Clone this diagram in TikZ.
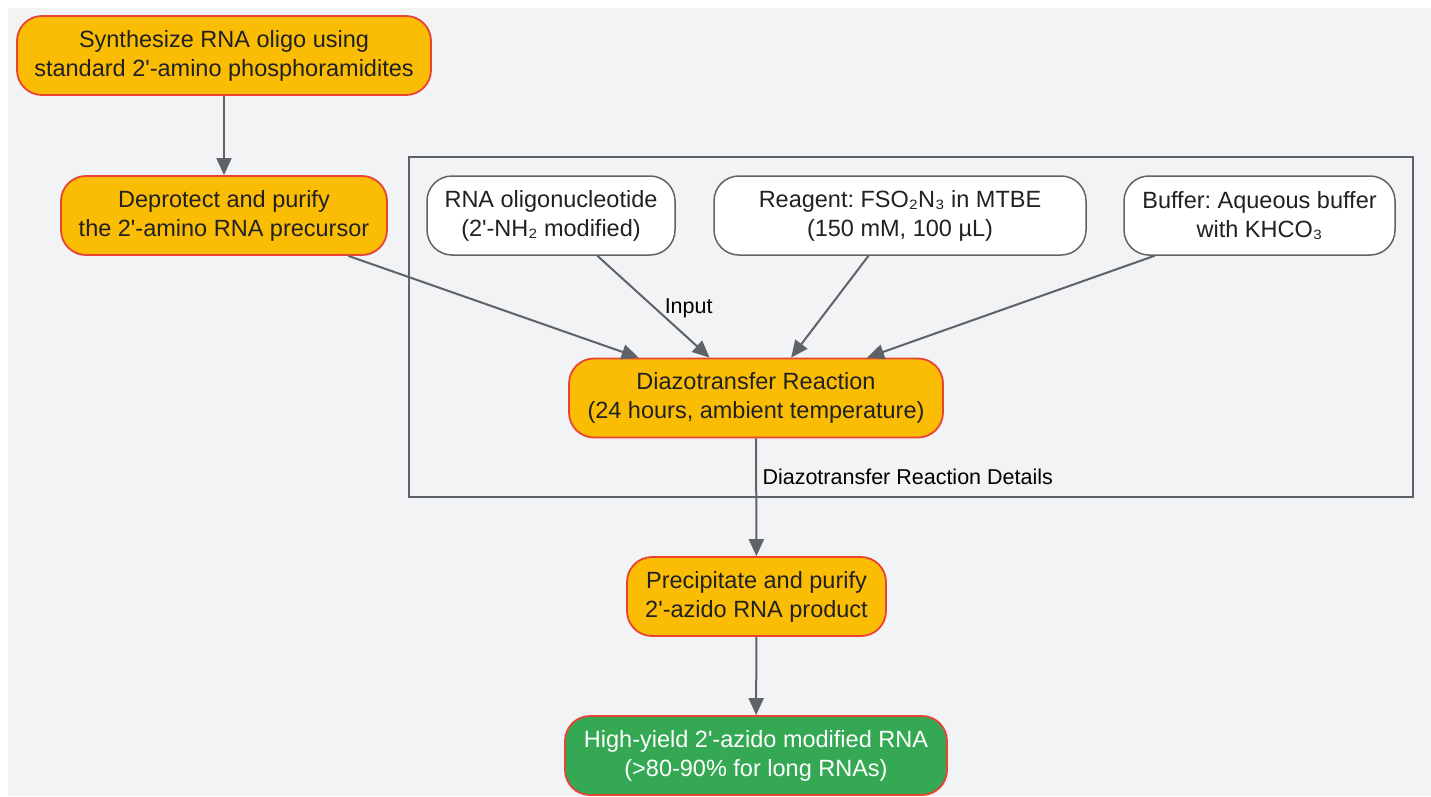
\documentclass[tikz,border=0pt]{standalone}
\usepackage{fontspec}
\setmainfont{Liberation Sans}
\usepackage{xcolor}
\definecolor{bgc}{HTML}{F1F3F4}
\definecolor{amber}{HTML}{FBBC04}
\definecolor{redline}{HTML}{EA4335}
\definecolor{leaf}{HTML}{34A853}
\definecolor{slate}{HTML}{5F6368}
\definecolor{ink}{HTML}{202124}
\usetikzlibrary{arrows.meta, positioning}
\newcommand{\pr}{\textquotesingle}
\frenchspacing

\begin{document}
\begin{tikzpicture}[
    x=1pt, y=-1pt,
    stepbox/.style={
        rectangle, draw=redline, fill=amber, line width=1.8pt,
        rounded corners=25pt, minimum height=79pt,
        align=center, text=ink, font=\fontsize{23.5}{29}\selectfont
    },
    inbox/.style={stepbox, draw=slate, fill=white, line width=1.5pt},
    endbox/.style={stepbox, fill=leaf, text=white},
    frame/.style={rectangle, draw=slate, line width=1.8pt},
    arr/.style={-{Triangle[length=17pt, width=15pt]}, slate, line width=2pt},
    lab/.style={font=\fontsize{21.5}{25}\selectfont, text=black}
]

% --- fond ---
\useasboundingbox (0,0) rectangle (1431,796);
\fill[bgc] (8,8) rectangle (1431,796);

% --- groupe ---
\node[frame, minimum width=1004pt, minimum height=340pt] (grp) at (911,327) {};

% --- Noeuds ---
\node[stepbox, minimum width=414pt] (synth) at (224,55.5)
    {Synthesize RNA oligo using\\standard 2\pr-amino phosphoramidites};
\node[stepbox, minimum width=326pt] (deprot) at (224,215.5)
    {Deprotect and purify\\the 2\pr-amino RNA precursor};
\node[inbox, minimum width=248pt] (oligo) at (551,215.5)
    {RNA oligonucleotide\\(2\pr-NH₂ modified)};
\node[inbox, minimum width=372pt] (reagent) at (900,215.5)
    {Reagent: FSO₂N₃ in MTBE\\(150 mM, 100 µL)};
\node[inbox, minimum width=271pt] (buffer) at (1259.5,215.5)
    {Buffer: Aqueous buffer\\with KHCO₃};
\node[stepbox, minimum width=374pt] (diazo) at (756,398)
    {Diazotransfer Reaction\\(24 hours, ambient temperature)};
\node[stepbox, minimum width=259pt] (precip) at (756.5,596.5)
    {Precipitate and purify\\2\pr-azido RNA product};
\node[endbox, minimum width=382pt] (yield) at (756,755.5)
    {High-yield 2\pr-azido modified RNA\\(>80-90\% for long RNAs)};

\node[lab, anchor=west] (grptitle) at (759,477) {Diazotransfer Reaction Details};

% --- Fleches ---
\draw[arr] (synth) -- (deprot);
\draw[arr] (deprot.-18.8) -- (diazo.161);
\draw[arr] (oligo.-41.3) --
    node[lab, right=7pt, yshift=-2pt] {Input} (diazo.139);
\draw[arr] (reagent.-128.1) -- (diazo.49.6);
\draw[arr] (buffer.-159.8) -- (diazo.20);
\draw[arr] (diazo) -- (precip);
\draw[arr] (precip) -- (yield);

\end{tikzpicture}
\end{document}
